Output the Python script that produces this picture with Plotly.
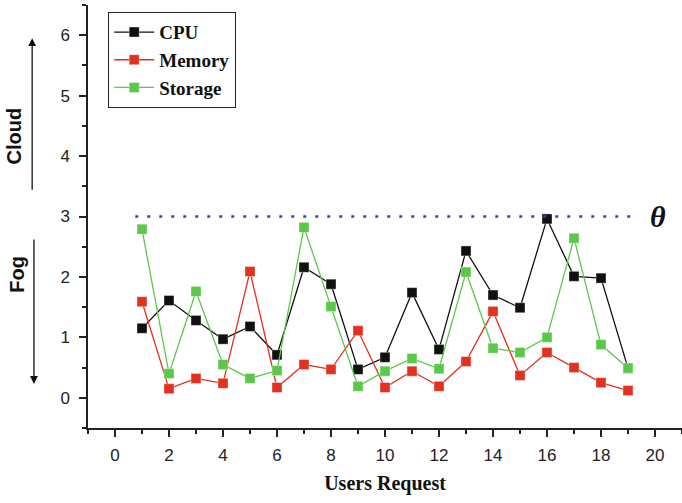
import plotly.graph_objects as go

# Users request index
requests = list(range(1, 20))

# Resource usage per request
cpu = [1.15, 1.61, 1.28, 0.97, 1.18, 0.71, 2.16, 1.88, 0.47, 0.67,
       1.74, 0.80, 2.43, 1.70, 1.49, 2.96, 2.01, 1.98, 0.49]
memory = [1.59, 0.15, 0.32, 0.24, 2.09, 0.17, 0.55, 0.47, 1.11, 0.17,
          0.44, 0.19, 0.60, 1.43, 0.37, 0.75, 0.50, 0.25, 0.12]
storage = [2.79, 0.40, 1.76, 0.55, 0.32, 0.45, 2.82, 1.51, 0.19, 0.44,
           0.65, 0.48, 2.08, 0.82, 0.75, 1.00, 2.64, 0.88, 0.49]

# Threshold between fog and cloud
theta = 3.0
theta_span = [0.75, 19.3]

series = [
    ("CPU", cpu, "#111111"),
    ("Memory", memory, "#e2311f"),
    ("Storage", storage, "#5cc84a"),
]

fig = go.Figure()
for name, vals, col in series:
    fig.add_trace(go.Scatter(
        x=requests, y=vals, name=f"<b>{name}</b>", mode="lines+markers",
        line=dict(color=col, width=1.3),
        marker=dict(symbol="square", size=10, color=col,
                    line=dict(color="rgba(255,255,255,0.6)", width=0.6)),
    ))

fig.add_trace(go.Scatter(
    x=theta_span, y=[theta, theta], mode="lines", showlegend=False,
    line=dict(color="#2f42c2", width=2.6, dash="3px,9px"),
    hoverinfo="skip",
))

tick_font = dict(family="Liberation Sans, Arial, sans-serif", size=17, color="#222")

fig.update_layout(
    width=682, height=503,
    margin=dict(l=88, r=0, t=5, b=75),
    paper_bgcolor="white", plot_bgcolor="white",
    showlegend=True,
    legend=dict(
        x=0.034, y=0.983, xanchor="left", yanchor="top",
        bordercolor="#222", borderwidth=1, bgcolor="white",
        font=dict(family="Liberation Serif, Times New Roman, serif", size=19, color="#111"),
        tracegroupgap=0, itemwidth=40,
    ),
    xaxis=dict(
        range=[-1, 21], tickmode="linear", tick0=0, dtick=2,
        showline=True, linecolor="#222", linewidth=1.5, mirror=False,
        ticks="outside", ticklen=7, tickwidth=1.5, tickcolor="#222",
        minor=dict(ticks="outside", ticklen=4, tickwidth=1.5, tickcolor="#222", dtick=1, tick0=0),
        showgrid=False, zeroline=False, tickfont=tick_font,
        ticklabelstandoff=4,
        title=dict(text="<b>Users Request</b>", standoff=12,
                   font=dict(family="Liberation Serif, Times New Roman, serif", size=20, color="#111")),
    ),
    yaxis=dict(
        range=[-0.5, 6.5], tickmode="linear", tick0=0, dtick=1,
        showline=True, linecolor="#222", linewidth=1.5, mirror=False,
        ticks="outside", ticklen=7, tickwidth=1.5, tickcolor="#222",
        minor=dict(ticks="outside", ticklen=4, tickwidth=1.5, tickcolor="#222", dtick=0.5, tick0=0),
        showgrid=False, zeroline=False, tickfont=tick_font,
        ticklabelstandoff=6,
    ),
)

side_font = dict(family="Liberation Sans, Arial, sans-serif", size=20, color="#111")

# Cloud / Fog side labels with direction arrows
fig.add_annotation(x=-0.124, xref="paper", xanchor="center", y=4.33, yref="y",
                   text="<b>Cloud</b>", textangle=-90, showarrow=False, font=side_font)
fig.add_annotation(x=-0.121, xref="paper", xanchor="center", y=2.04, yref="y",
                   text="<b>Fog</b>", textangle=-90, showarrow=False, font=side_font)
fig.add_annotation(x=-0.094, xref="paper", y=5.95, yref="y", ax=0, ay=153,
                   text="", showarrow=True, arrowhead=2, arrowsize=1.2,
                   arrowwidth=1.3, arrowcolor="#111")
fig.add_annotation(x=-0.091, xref="paper", y=0.23, yref="y", ax=0, ay=-146,
                   text="", showarrow=True, arrowhead=2, arrowsize=1.2,
                   arrowwidth=1.3, arrowcolor="#111")

# Threshold symbol
fig.add_annotation(x=20.1, y=theta, xref="x", yref="y", text="<b><i>θ</i></b>", showarrow=False,
                   font=dict(family="Liberation Serif, Times New Roman, serif", size=30, color="#111"))

fig.write_html("out.html")
